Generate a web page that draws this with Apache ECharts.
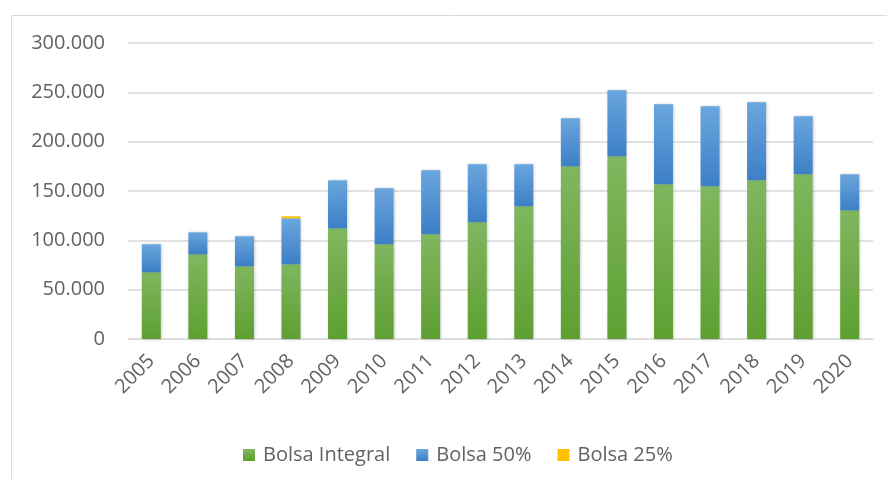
<!DOCTYPE html>
<html>
<head>
<meta charset="utf-8">
<script src="https://cdn.jsdelivr.net/npm/echarts@6/dist/echarts.min.js"></script>
<style>html,body{margin:0;padding:0;background:#fff;}#c{width:887px;height:479px;}</style>
</head>
<body>
<div id="c"></div>
<script>
var years = ['2005','2006','2007','2008','2009','2010','2011','2012','2013','2014','2015','2016','2017','2018','2019','2020'];
var bolsaIntegral = [67600, 85800, 73700, 75700, 112200, 96000, 106100, 118300, 134500, 175000, 185200, 156800, 154800, 160800, 166900, 130400];
var bolsa50 = [28400, 22300, 30400, 46600, 48600, 56700, 64900, 58800, 42600, 48700, 66900, 81100, 81000, 79100, 58800, 36500];
var bolsa25 = [0, 0, 0, 2100, 0, 0, 0, 0, 0, 0, 0, 0, 0, 0, 0, 0];
var seriesNames = ['Bolsa Integral', 'Bolsa 50%', 'Bolsa 25%'];

var FONT = 'Open Sans';
var TXT = '#626262';
function fmt(v){ return String(v).replace(/\B(?=(\d{3})+(?!\d))/g, '.'); }
function grad(top, bottom){
  return new echarts.graphic.LinearGradient(0,0,0,1,[{offset:0,color:top},{offset:1,color:bottom}]);
}
var chart = echarts.init(document.getElementById('c'), null, {renderer:'canvas'});
var shadow = {shadowBlur:3, shadowColor:'rgba(0,0,0,0.25)', shadowOffsetX:1, shadowOffsetY:0};
chart.setOption({
  animation:false,
  backgroundColor:'#fff',
  graphic:[
    {type:'line', shape:{x1:11.5,y1:15.5,x2:887,y2:15.5}, style:{stroke:'#d9d9d9',lineWidth:1}},
    {type:'line', shape:{x1:11.5,y1:15.5,x2:11.5,y2:479}, style:{stroke:'#d9d9d9',lineWidth:1}}
  ],
  grid:{left:128, right:14, top:43, bottom:140, containLabel:false},
  legend:{
    data:seriesNames, left:238, top:440, icon:'rect', itemWidth:12, itemHeight:12, itemGap:26,
    textStyle:{fontFamily:FONT, fontSize:20, color:TXT, padding:[0,0,0,3]}
  },
  xAxis:{
    type:'category', data:years,
    axisLine:{lineStyle:{color:'#d9d9d9'}},
    axisTick:{show:false},
    axisLabel:{rotate:45, fontFamily:FONT, fontSize:20, color:TXT, margin:19, interval:0}
  },
  yAxis:{
    type:'value', min:0, max:300000, interval:50000,
    axisLine:{show:false}, axisTick:{show:false},
    splitLine:{lineStyle:{color:'#d9d9d9', width:1.5}},
    axisLabel:{fontFamily:FONT, fontSize:20, color:TXT, margin:23, formatter:fmt}
  },
  series:[
    {name:seriesNames[0], type:'bar', stack:'t', data:bolsaIntegral, barWidth:19,
     itemStyle:Object.assign({color:grad('#7fb75f','#5e9f31')}, shadow)},
    {name:seriesNames[1], type:'bar', stack:'t', data:bolsa50, barWidth:19,
     itemStyle:Object.assign({color:grad('#6aa6de','#3d7fc6')}, shadow)},
    {name:seriesNames[2], type:'bar', stack:'t', data:bolsa25, barWidth:19,
     itemStyle:{color:'#ffc000'}}
  ]
});
</script>
</body>
</html>
